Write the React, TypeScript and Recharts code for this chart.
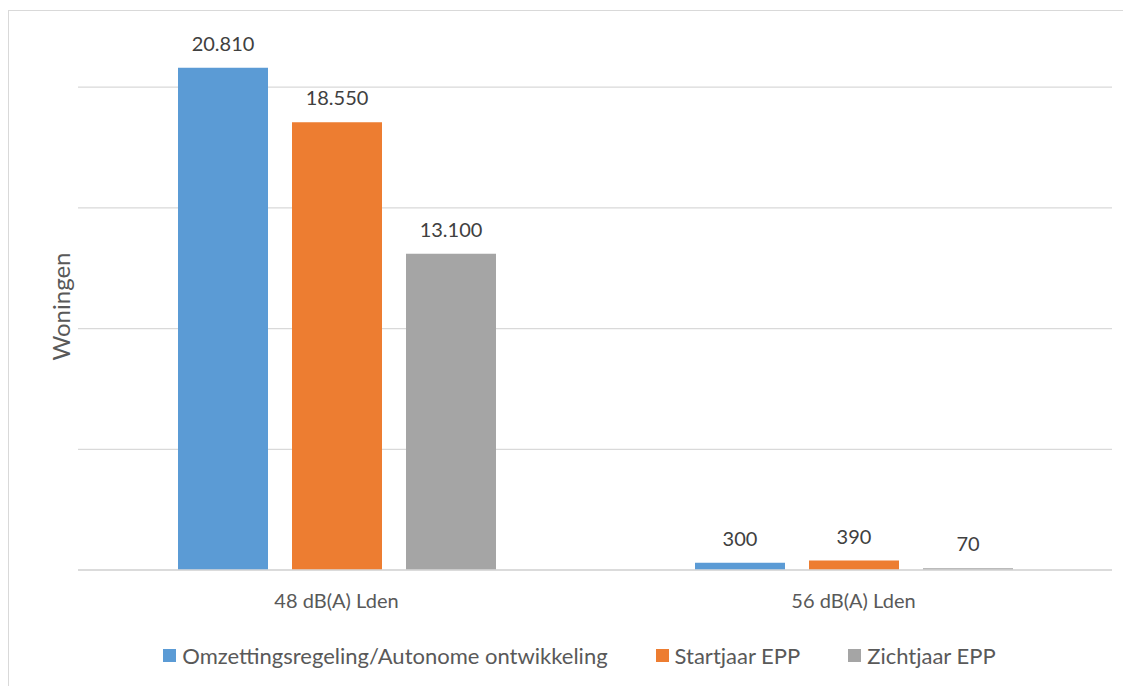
import { BarChart, Bar, XAxis, YAxis, CartesianGrid, Legend, LabelList } from 'recharts';

const categories = ['48 dB(A) Lden', '56 dB(A) Lden'];
const omzetting = [20810, 300];
const startjaar = [18550, 390];
const zichtjaar = [13100, 70];
const yTicks = [0, 5000, 10000, 15000, 20000];

const series = [
  { key: 'omzetting', name: 'Omzettingsregeling/Autonome ontwikkeling', color: '#5b9bd5' },
  { key: 'startjaar', name: 'Startjaar EPP', color: '#ed7d31' },
  { key: 'zichtjaar', name: 'Zichtjaar EPP', color: '#a5a5a5' },
];

const data = categories.map((name, i) => ({
  name,
  omzetting: omzetting[i],
  startjaar: startjaar[i],
  zichtjaar: zichtjaar[i],
}));

const font = 'Lato, "Open Sans", sans-serif';

// dutch thousands separator
const fmt = (v: any) => String(v).replace(/\B(?=(\d{3})+(?!\d))/g, '.');

const LegendContent = () => (
  <div
    style={{
      display: 'flex',
      justifyContent: 'center',
      alignItems: 'center',
      paddingLeft: 3,
      height: 30,
      fontFamily: font,
      fontSize: 22,
      color: '#595959',
    }}
  >
    {series.map((s, i) => (
      <div key={s.key} style={{ display: 'flex', alignItems: 'center', marginLeft: i === 0 ? 0 : 48 }}>
        <span style={{ width: 13, height: 13, background: s.color, marginRight: 6, display: 'inline-block' }} />
        <span>{s.name}</span>
      </div>
    ))}
  </div>
);

export default function App() {
  return (
    <div style={{ width: 1123, height: 676, overflow: 'hidden', marginTop: 2 }}>
      <div style={{ width: 1140, height: 690, border: '1px solid #d9d9d9' }}>
        <BarChart
          width={1140}
          height={690}
          data={data}
          margin={{ top: 40, right: 37, left: 35, bottom: 31 }}
          barSize={90}
          barGap={24}
        >
          <CartesianGrid
            vertical={false}
            horizontalValues={yTicks}
            stroke="#d9d9d9"
            strokeWidth={1.3}
          />
          <XAxis
            dataKey="name"
            height={70}
            tickLine={false}
            tickSize={0}
            tickMargin={24}
            axisLine={{ stroke: '#d9d9d9', strokeWidth: 1.3 }}
            tick={{ fill: '#595959', fontSize: 20, fontFamily: font }}
          />
          <YAxis
            width={34}
            domain={[0, 21500]}
            ticks={yTicks}
            tick={() => <g />}
            tickLine={false}
            axisLine={false}
            label={{
              value: 'Woningen',
              angle: -90,
              position: 'center',
              dy: -4,
              fill: '#595959',
              fontSize: 24,
              fontFamily: font,
            }}
          />
          <Legend verticalAlign="bottom" height={30} content={<LegendContent />} />
          {series.map((s) => (
            <Bar key={s.key} dataKey={s.key} name={s.name} fill={s.color} isAnimationActive={false}>
              <LabelList
                dataKey={s.key}
                position="top"
                offset={17}
                formatter={fmt}
                fill="#404040"
                fontSize={20}
                fontFamily={font}
              />
            </Bar>
          ))}
        </BarChart>
      </div>
    </div>
  );
}
